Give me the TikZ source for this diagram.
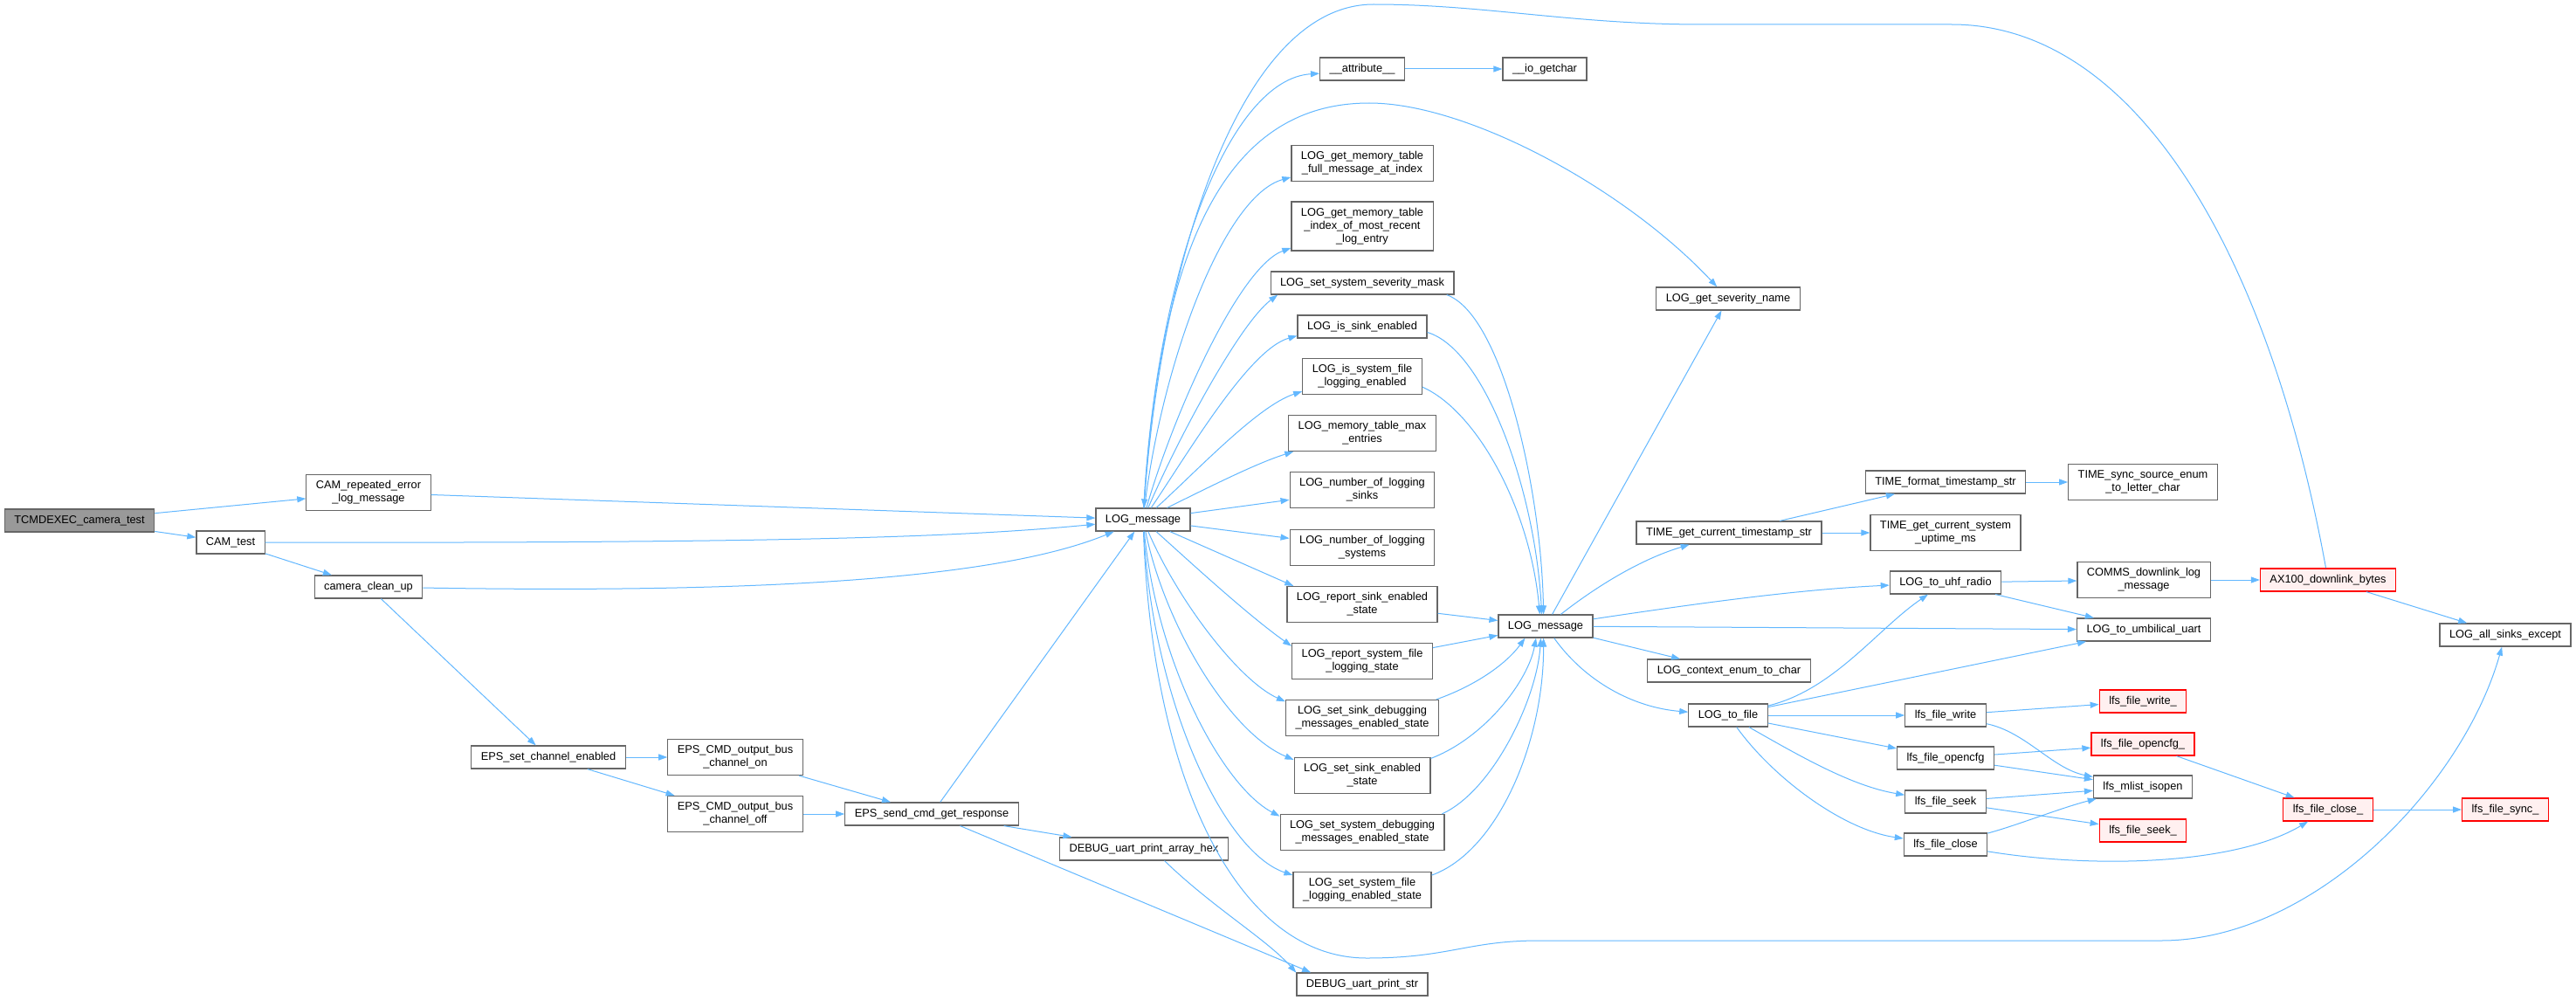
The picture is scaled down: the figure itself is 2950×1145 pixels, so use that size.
\documentclass[tikz,border=0pt]{standalone}
\usepackage{fontspec}
\setmainfont{Liberation Sans}
\usetikzlibrary{arrows.meta}

\definecolor{edgeblue}{HTML}{63B8FF}
\definecolor{boxgray}{HTML}{666666}
\definecolor{rootfill}{HTML}{999999}
\definecolor{redfill}{HTML}{FFF0F0}

\tikzset{
  fn/.style={draw=boxgray, line width=1.2pt, fill=white, rectangle,
    inner xsep=11pt, inner ysep=0pt, minimum height=26pt, align=center,
    font=\fontsize{12.8}{15}\selectfont},
  fntwo/.style={fn, minimum height=41pt},
  fnthree/.style={fn, minimum height=56pt},
  fnroot/.style={fn, fill=rootfill},
  fnred/.style={fn, draw=red, fill=redfill},
  call/.style={draw=edgeblue, line width=1pt, -{Triangle[length=10pt,width=7pt]}}
}

\begin{document}
\begin{tikzpicture}[x=1pt, y=-1pt] % 1 unit = 1 px of the graph
\fill[white] (0,0) rectangle (2950,1145);
\useasboundingbox (0,0) rectangle (2950,1145);
%%
%% camera side
\node[fnroot] (tcmd) at (91,596) {TCMDEXEC\_camera\_test};
\node[fntwo] (camrep) at (422,564) {CAM\_repeated\_error\\\_log\_message};
\node[fn] (camtest) at (264,621) {CAM\_test};
\node[fn] (camclean) at (422,672) {camera\_clean\_up};
\node[fn] (epsset) at (628,867) {EPS\_set\_channel\_enabled};
\node[fntwo] (epson) at (842,867) {EPS\_CMD\_output\_bus\\\_channel\_on};
\node[fntwo] (epsoff) at (842,932) {EPS\_CMD\_output\_bus\\\_channel\_off};
\node[fn] (epssend) at (1067,932) {EPS\_send\_cmd\_get\_response};
\node[fn] (dbghex) at (1310,972) {DEBUG\_uart\_print\_array\_hex};
\node[fn] (dbgstr) at (1560,1127) {DEBUG\_uart\_print\_str};
%%
%% first LOG_message and its column
\node[fn] (logmsgA) at (1309,595) {LOG\_message};
\node[fn] (attr) at (1560,79) {\_\_attribute\_\_};
\node[fn] (iogetchar) at (1769,79) {\_\_io\_getchar};
\node[fntwo] (memfull) at (1560,187) {LOG\_get\_memory\_table\\\_full\_message\_at\_index};
\node[fnthree] (memidx) at (1560,259) {LOG\_get\_memory\_table\\\_index\_of\_most\_recent\\\_log\_entry};
\node[fn] (sevmask) at (1560,324) {LOG\_set\_system\_severity\_mask};
\node[fn] (issink) at (1560,374) {LOG\_is\_sink\_enabled};
\node[fntwo] (issysfile) at (1560,431) {LOG\_is\_system\_file\\\_logging\_enabled};
\node[fntwo] (memmax) at (1560,496) {LOG\_memory\_table\_max\\\_entries};
\node[fntwo] (nsinks) at (1560,561) {LOG\_number\_of\_logging\\\_sinks};
\node[fntwo] (nsys) at (1560,627) {LOG\_number\_of\_logging\\\_systems};
\node[fntwo] (repsink) at (1560,692) {LOG\_report\_sink\_enabled\\\_state};
\node[fntwo] (repsys) at (1560,757) {LOG\_report\_system\_file\\\_logging\_state};
\node[fntwo] (sinkdbg) at (1560,822) {LOG\_set\_sink\_debugging\\\_messages\_enabled\_state};
\node[fntwo] (sinken) at (1560,888) {LOG\_set\_sink\_enabled\\\_state};
\node[fntwo] (sysdbg) at (1560,953) {LOG\_set\_system\_debugging\\\_messages\_enabled\_state};
\node[fntwo] (sysfile) at (1560,1019) {LOG\_set\_system\_file\\\_logging\_enabled\_state};
%%
%% second LOG_message and the sinks
\node[fn] (logmsgB) at (1770,717) {LOG\_message};
\node[fn] (sevname) at (1979,342) {LOG\_get\_severity\_name};
\node[fn] (tsstr) at (1980,610) {TIME\_get\_current\_timestamp\_str};
\node[fn] (tsfmt) at (2228,552) {TIME\_format\_timestamp\_str};
\node[fntwo] (uptime) at (2228,610) {TIME\_get\_current\_system\\\_uptime\_ms};
\node[fn] (uhf) at (2228,667) {LOG\_to\_uhf\_radio};
\node[fn] (ctxchar) at (1980,768) {LOG\_context\_enum\_to\_char};
\node[fn] (tofile) at (1979,819) {LOG\_to\_file};
\node[fn] (fwrite) at (2228,819) {lfs\_file\_write};
\node[fn] (fopen) at (2228,868) {lfs\_file\_opencfg};
\node[fn] (fseek) at (2228,918) {lfs\_file\_seek};
\node[fn] (fclose) at (2228,967) {lfs\_file\_close};
\node[fntwo] (tssync) at (2454,552) {TIME\_sync\_source\_enum\\\_to\_letter\_char};
\node[fntwo] (comms) at (2455,664) {COMMS\_downlink\_log\\\_message};
\node[fn] (umb) at (2455,721) {LOG\_to\_umbilical\_uart};
\node[fnred] (fwriteR) at (2454,803) {lfs\_file\_write\_};
\node[fnred] (fopenR) at (2454,852) {lfs\_file\_opencfg\_};
\node[fn] (mlist) at (2454,901) {lfs\_mlist\_isopen};
\node[fnred] (fseekR) at (2454,951) {lfs\_file\_seek\_};
\node[fnred] (ax100) at (2666,664) {AX100\_downlink\_bytes};
\node[fnred] (fcloseR) at (2666,927) {lfs\_file\_close\_};
\node[fn] (logall) at (2869,727) {LOG\_all\_sinks\_except};
\node[fnred] (fsyncR) at (2869,927) {lfs\_file\_sync\_};
%%
%% calls, camera side
\draw[call] (tcmd) -- (camrep);
\draw[call] (tcmd) -- (camtest);
\draw[call] (camrep) -- (logmsgA);
\draw[call] (camtest) .. controls (900,622) and (1100,615) .. (logmsgA);
\draw[call] (camtest) -- (camclean);
\draw[call] (camclean) .. controls (900,680) and (1150,660) .. (logmsgA);
\draw[call] (camclean) -- (epsset);
\draw[call] (epsset) -- (epson);
\draw[call] (epsset) -- (epsoff);
\draw[call] (epson) -- (epssend);
\draw[call] (epsoff) -- (epssend);
\draw[call] (epssend) -- (logmsgA);
\draw[call] (epssend) -- (dbghex);
\draw[call] (epssend) -- (dbgstr.167);
\draw[call] (dbghex.330) .. controls (1390,1040) and (1450,1075) .. (dbgstr.170);
%%
%% calls out of the first LOG_message
\draw[call] (logmsgA) .. controls (1325,300) and (1410,90) .. (attr.186);
\draw[call] (logmsgA) .. controls (1330,420) and (1400,225) .. (memfull.191);
\draw[call] (logmsgA) .. controls (1345,470) and (1420,305) .. (memidx.197);
\draw[call] (logmsgA) .. controls (1350,500) and (1420,370) .. (sevmask.188);
\draw[call] (logmsgA) .. controls (1360,520) and (1430,400) .. (issink.188);
\draw[call] (logmsgA) .. controls (1370,540) and (1440,465) .. (issysfile.194);
\draw[call] (logmsgA) .. controls (1390,555) and (1440,530) .. (memmax.195);
\draw[call] (logmsgA) -- (nsinks);
\draw[call] (logmsgA) -- (nsys);
\draw[call] (logmsgA) -- (repsink.165);
\draw[call] (logmsgA) .. controls (1370,650) and (1430,705) .. (repsys.168);
\draw[call] (logmsgA) .. controls (1350,690) and (1420,780) .. (sinkdbg.168);
\draw[call] (logmsgA) .. controls (1335,720) and (1410,840) .. (sinken.167);
\draw[call] (logmsgA) .. controls (1325,760) and (1400,900) .. (sysdbg.169);
\draw[call] (logmsgA) .. controls (1320,800) and (1400,975) .. (sysfile.168);
\draw[call] (logmsgA) .. controls (1330,250) and (1420,118) .. (1568,118)
  .. controls (1680,118) and (1860,215) .. (sevname);
\draw[call] (logmsgA) .. controls (1320,900) and (1420,1097) .. (1565,1097)
  .. controls (1660,1097) and (1680,1077) .. (1763,1077) -- (2475,1077)
  .. controls (2650,1077) and (2820,900) .. (logall);
\draw[call] (attr) -- (iogetchar);
%%
%% column into the second LOG_message
\draw[call] (sevmask.352) .. controls (1720,360) and (1765,560) .. (logmsgB.100);
\draw[call] (issink.355) .. controls (1700,400) and (1758,560) .. (logmsgB.108);
\draw[call] (issysfile.350) .. controls (1690,470) and (1752,580) .. (logmsgB.116);
\draw[call] (repsink) -- (logmsgB);
\draw[call] (repsys) -- (logmsgB);
\draw[call] (sinkdbg.14) .. controls (1690,785) and (1725,760) .. (logmsgB.210);
\draw[call] (sinken.14) .. controls (1700,845) and (1750,780) .. (logmsgB.231);
\draw[call] (sysdbg.13) .. controls (1710,905) and (1760,800) .. (logmsgB.248);
\draw[call] (sysfile.12) .. controls (1715,975) and (1768,850) .. (logmsgB.260);
%%
%% calls out of the second LOG_message
\draw[call] (logmsgB) -- (sevname);
\draw[call] (logmsgB) .. controls (1830,670) and (1880,640) .. (tsstr);
\draw[call] (logmsgB) .. controls (1950,690) and (2060,675) .. (uhf);
\draw[call] (logmsgB) -- (umb);
\draw[call] (logmsgB) -- (ctxchar);
\draw[call] (logmsgB) .. controls (1815,780) and (1870,810) .. (tofile);
\draw[call] (tsstr) -- (tsfmt);
\draw[call] (tsstr) -- (uptime);
\draw[call] (tsfmt) -- (tssync);
\draw[call] (uhf) -- (comms);
\draw[call] (uhf) -- (umb);
\draw[call] (comms) -- (ax100);
\draw[call] (ax100) -- (logall);
\draw[call] (ax100) .. controls (2600,300) and (2450,28) .. (2235,28) -- (1950,28)
  .. controls (1800,28) and (1700,5) .. (1573,5)
  .. controls (1420,5) and (1330,300) .. (logmsgA);
%%
%% file system
\draw[call] (tofile) .. controls (2100,790) and (2150,720) .. (uhf);
\draw[call] (tofile) -- (umb);
\draw[call] (tofile) -- (fwrite);
\draw[call] (tofile) -- (fopen);
\draw[call] (tofile) .. controls (2060,865) and (2120,900) .. (fseek);
\draw[call] (tofile) .. controls (2030,890) and (2110,950) .. (fclose);
\draw[call] (fwrite) -- (fwriteR);
\draw[call] (fwrite) .. controls (2320,838) and (2350,880) .. (mlist);
\draw[call] (fopen) -- (fopenR);
\draw[call] (fopen) -- (mlist);
\draw[call] (fseek) -- (mlist);
\draw[call] (fseek) -- (fseekR);
\draw[call] (fclose) .. controls (2310,945) and (2360,925) .. (mlist);
\draw[call] (fclose) .. controls (2400,995) and (2560,990) .. (fcloseR);
\draw[call] (fopenR) -- (fcloseR);
\draw[call] (fcloseR) -- (fsyncR);
%%
\end{tikzpicture}
\end{document}
